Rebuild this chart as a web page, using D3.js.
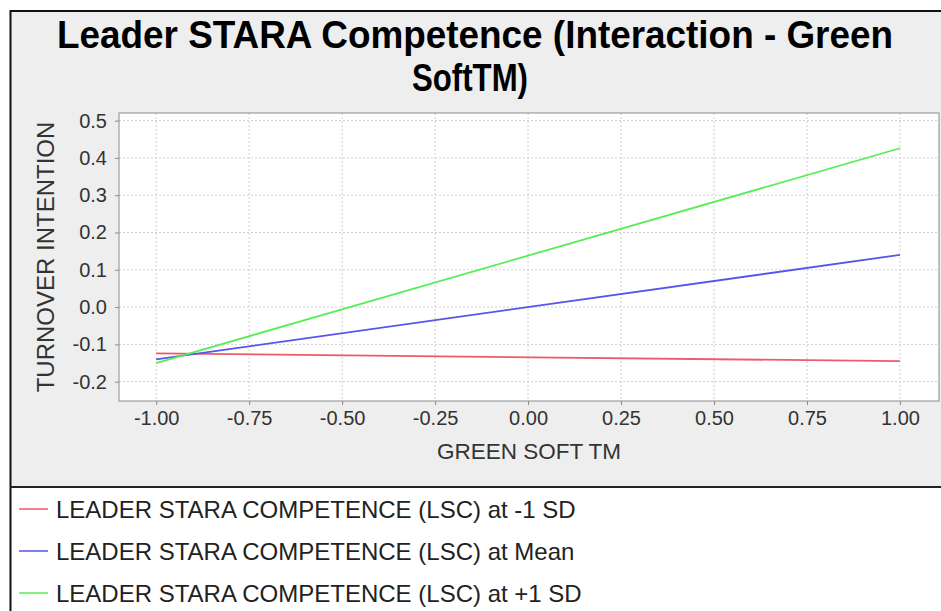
<!DOCTYPE html>
<html>
<head>
<meta charset="utf-8">
<script src="https://cdn.jsdelivr.net/npm/d3@7"></script>
<style>
    body { margin: 0; background: #ffffff; }
    text { font-family: "Liberation Sans", Arial, sans-serif; }
</style>
</head>
<body>
<div id="chart"></div>
<script>
// ------------------------------------------------------------------
//  simple slopes plot - Leader STARA Competence x Green Soft TM
// ------------------------------------------------------------------
const xValues = [-1, 1]
const seriesNames = [
    "LEADER STARA COMPETENCE (LSC) at -1 SD",
    "LEADER STARA COMPETENCE (LSC) at Mean",
    "LEADER STARA COMPETENCE (LSC) at +1 SD"
]
const lowSD = [-0.124, -0.145]
const atMean = [-0.140, 0.140]
const highSD = [-0.150, 0.426]
const seriesColors = ["#f05a64", "#5555ee", "#55ee55"]
const xTicks = [-1.00, -0.75, -0.50, -0.25, 0.00, 0.25, 0.50, 0.75, 1.00]
const yTicks = [-0.2, -0.1, 0.0, 0.1, 0.2, 0.3, 0.4, 0.5]

const W = 941, H = 611
const plot = { left: 119, top: 113, right: 939, bottom: 401 }

const svg = d3.select("#chart").append("svg")
    .attr("width", W)
    .attr("height", H)

// chart panel + legend panel
svg.append("rect")
    .attr("x", 10).attr("y", 11)
    .attr("width", W).attr("height", 476)
    .attr("fill", "#eeeeee")
svg.append("rect")
    .attr("x", 10).attr("y", 487)
    .attr("width", W).attr("height", H)
    .attr("fill", "#ffffff")
svg.append("path")
    .attr("d", "M" + (W + 5) + ",11 H10.5 V" + (H + 5))
    .attr("fill", "none")
    .attr("stroke", "#111")
    .attr("stroke-width", 2)
svg.append("line")
    .attr("x1", 10).attr("x2", W)
    .attr("y1", 487).attr("y2", 487)
    .attr("stroke", "#222")
    .attr("stroke-width", 2)

// title (glyphs in the picture are a bit condensed)
const title = svg.append("text")
    .attr("text-anchor", "middle")
    .attr("font-weight", "bold")
    .attr("font-size", 38)
    .attr("fill", "#000")
title.append("tspan").attr("x", 475).attr("y", 48)
    .attr("textLength", 836).attr("lengthAdjust", "spacingAndGlyphs")
    .text("Leader STARA Competence (Interaction - Green")
title.append("tspan").attr("x", 470).attr("y", 91)
    .attr("textLength", 116).attr("lengthAdjust", "spacingAndGlyphs")
    .text("SoftTM)")

// scales
const x = d3.scaleLinear()
    .domain([-1.1, 1.105])
    .range([plot.left, plot.right])
const y = d3.scaleLinear()
    .domain([-0.2518, 0.5205])
    .range([plot.bottom, plot.top])

// plot background
svg.append("rect")
    .attr("x", plot.left).attr("y", plot.top)
    .attr("width", plot.right - plot.left)
    .attr("height", plot.bottom - plot.top)
    .attr("fill", "#ffffff")

// grid lines
svg.append("g").selectAll("line")
    .data(xTicks)
    .enter().append("line")
    .attr("x1", d => x(d)).attr("x2", d => x(d))
    .attr("y1", plot.top).attr("y2", plot.bottom)
    .attr("stroke", "#cfcfcf")
    .attr("stroke-dasharray", "2,2")
svg.append("g").selectAll("line")
    .data(yTicks)
    .enter().append("line")
    .attr("x1", plot.left).attr("x2", plot.right)
    .attr("y1", d => y(d)).attr("y2", d => y(d))
    .attr("stroke", "#cfcfcf")
    .attr("stroke-dasharray", "2,2")

// lines
const allSeries = [lowSD, atMean, highSD]
const line = d3.line()
    .x((d, i) => x(xValues[i]))
    .y(d => y(d))
svg.append("g").selectAll("path")
    .data(allSeries)
    .enter().append("path")
    .attr("d", d => line(d))
    .attr("fill", "none")
    .attr("stroke", (d, i) => seriesColors[i])
    .attr("stroke-width", 1.8)

// plot border
svg.append("rect")
    .attr("x", plot.left).attr("y", plot.top)
    .attr("width", plot.right - plot.left)
    .attr("height", plot.bottom - plot.top)
    .attr("fill", "none")
    .attr("stroke", "#8a8a8a")

// axes
const xAxis = svg.append("g")
    .attr("transform", "translate(0," + plot.bottom + ")")
    .call(d3.axisBottom(x).tickValues(xTicks).tickSizeOuter(0).tickSize(4).tickPadding(6))
const yAxis = svg.append("g")
    .attr("transform", "translate(" + plot.left + ",0)")
    .call(d3.axisLeft(y).tickValues(yTicks).tickSizeOuter(0).tickSize(4).tickPadding(8))
;[xAxis, yAxis].forEach(function (a) {
    a.select(".domain").remove()
    a.selectAll(".tick line").attr("stroke", "#8a8a8a")
    a.selectAll(".tick text")
        .attr("font-size", 20)
        .attr("font-family", "Liberation Sans, Arial, sans-serif")
        .attr("fill", "#333")
})
xAxis.selectAll(".tick text").text(d => d3.format(".2f")(d).replace("−", "-"))
yAxis.selectAll(".tick text").text(d => d3.format(".1f")(d).replace("−", "-"))

// axis labels
svg.append("text")
    .attr("x", (plot.left + plot.right) / 2)
    .attr("y", 459)
    .attr("text-anchor", "middle")
    .attr("font-size", 22.5)
    .attr("fill", "#333")
    .text("GREEN SOFT TM")
svg.append("text")
    .attr("transform", "translate(54," + (plot.top + plot.bottom) / 2 + ") rotate(-90)")
    .attr("text-anchor", "middle")
    .attr("font-size", 24)
    .attr("fill", "#333")
    .text("TURNOVER INTENTION")

// legend
const legend = svg.append("g").selectAll("g")
    .data(seriesNames)
    .enter().append("g")
    .attr("transform", (d, i) => "translate(0," + (509 + i * 42) + ")")
legend.append("line")
    .attr("x1", 19).attr("x2", 48)
    .attr("stroke", (d, i) => seriesColors[i])
    .attr("stroke-width", 1.5)
legend.append("text")
    .attr("x", 56)
    .attr("y", 8.5)
    .attr("font-size", 24)
    .attr("fill", "#222")
    .text(d => d)
</script>
</body>
</html>
